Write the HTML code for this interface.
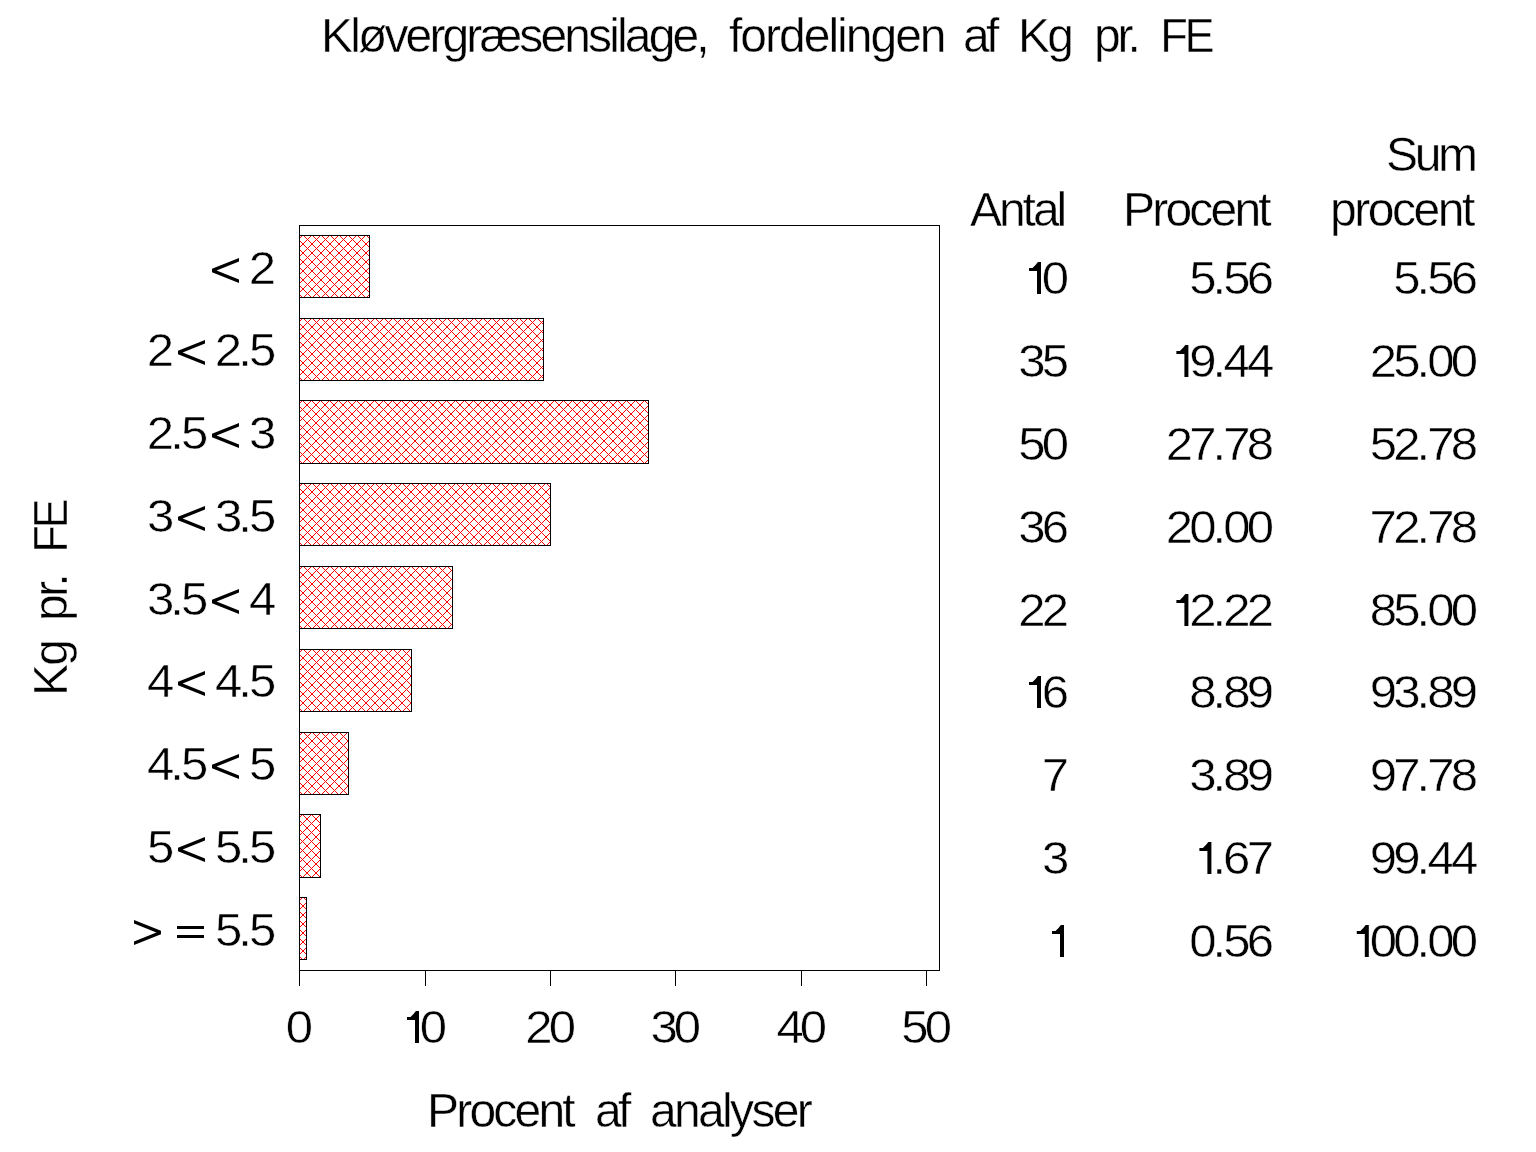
<!DOCTYPE html><html><head><meta charset="utf-8"><style>
html,body{margin:0;padding:0;background:#fff;width:1536px;height:1152px;overflow:hidden}
svg{display:block;will-change:transform} text{font-family:"Liberation Sans", sans-serif;fill:#000} .n{font-size:47px;stroke:#fff;stroke-width:0.5px} .w{font-size:48px;stroke:#fff;stroke-width:0.45px}
</style></head><body>
<svg width="1536" height="1152" viewBox="0 0 1536 1152">
<defs>
<pattern id="hA" x="0" y="0" width="9" height="9" patternUnits="userSpaceOnUse"><path d="M0 3h1v1h-1zM0 5h1v1h-1zM1 2h1v1h-1zM1 6h1v1h-1zM2 1h1v1h-1zM2 7h1v1h-1zM3 0h1v1h-1zM3 8h1v1h-1zM4 0h1v1h-1zM4 8h1v1h-1zM5 1h1v1h-1zM5 7h1v1h-1zM6 2h1v1h-1zM6 6h1v1h-1zM7 3h1v1h-1zM7 5h1v1h-1zM8 4h1v1h-1z" fill="#f00" shape-rendering="crispEdges"/></pattern>
<pattern id="hB" x="0" y="0" width="9" height="9" patternUnits="userSpaceOnUse"><path d="M0 3h1v1h-1zM0 6h1v1h-1zM1 2h1v1h-1zM1 7h1v1h-1zM2 1h1v1h-1zM2 8h1v1h-1zM3 0h1v1h-1zM4 1h1v1h-1zM4 8h1v1h-1zM5 2h1v1h-1zM5 7h1v1h-1zM6 3h1v1h-1zM6 6h1v1h-1zM7 4h1v1h-1zM7 5h1v1h-1zM8 4h1v1h-1zM8 5h1v1h-1z" fill="#f00" shape-rendering="crispEdges"/></pattern>
</defs>
<rect width="1536" height="1152" fill="#fff"/>
<g transform="translate(299 235)"><rect width="70" height="62" fill="url(#hA)"/><rect x="0.5" y="0.5" width="70" height="62" fill="none" stroke="#000" shape-rendering="crispEdges"/></g>
<g transform="translate(299 318)"><rect width="244" height="62" fill="url(#hA)"/><rect x="0.5" y="0.5" width="244" height="62" fill="none" stroke="#000" shape-rendering="crispEdges"/></g>
<g transform="translate(299 400)"><rect width="349" height="63" fill="url(#hB)"/><rect x="0.5" y="0.5" width="349" height="63" fill="none" stroke="#000" shape-rendering="crispEdges"/></g>
<g transform="translate(299 483)"><rect width="251" height="62" fill="url(#hA)"/><rect x="0.5" y="0.5" width="251" height="62" fill="none" stroke="#000" shape-rendering="crispEdges"/></g>
<g transform="translate(299 566)"><rect width="153" height="62" fill="url(#hA)"/><rect x="0.5" y="0.5" width="153" height="62" fill="none" stroke="#000" shape-rendering="crispEdges"/></g>
<g transform="translate(299 649)"><rect width="112" height="62" fill="url(#hA)"/><rect x="0.5" y="0.5" width="112" height="62" fill="none" stroke="#000" shape-rendering="crispEdges"/></g>
<g transform="translate(299 732)"><rect width="49" height="62" fill="url(#hA)"/><rect x="0.5" y="0.5" width="49" height="62" fill="none" stroke="#000" shape-rendering="crispEdges"/></g>
<g transform="translate(299 814)"><rect width="21" height="63" fill="url(#hB)"/><rect x="0.5" y="0.5" width="21" height="63" fill="none" stroke="#000" shape-rendering="crispEdges"/></g>
<g transform="translate(299 897)"><rect width="7" height="62" fill="url(#hA)"/><rect x="0.5" y="0.5" width="7" height="62" fill="none" stroke="#000" shape-rendering="crispEdges"/></g>
<g stroke="#000" fill="none" shape-rendering="crispEdges">
<rect x="299.5" y="225.5" width="640" height="745"/>
<path d="M299.5 970V986M425.5 970V986M550.5 970V986M675.5 970V986M801.5 970V986M926.5 970V986"/>
</g>
<path fill="#000" d="M1038 262L1041 262L1041 294L1037 294L1037 271L1029 271L1029 268L1032.5 268L1035.5 265L1037.5 262.6ZM1185.4 345L1188.4 345L1188.4 377L1184.4 377L1184.4 354L1176.4 354L1176.4 351L1179.9 351L1182.9 348L1184.9 345.6ZM1185.4 594L1188.4 594L1188.4 626L1184.4 626L1184.4 603L1176.4 603L1176.4 600L1179.9 600L1182.9 597L1184.9 594.6ZM1038 676L1041 676L1041 708L1037 708L1037 685L1029 685L1029 682L1032.5 682L1035.5 679L1037.5 676.6ZM1208.4 842L1211.4 842L1211.4 874L1207.4 874L1207.4 851L1199.4 851L1199.4 848L1202.9 848L1205.9 845L1207.9 842.6ZM1061 925L1064 925L1064 957L1060 957L1060 934L1052 934L1052 931L1055.5 931L1058.5 928L1060.5 925.6ZM1365.8 925L1368.8 925L1368.8 957L1364.8 957L1364.8 934L1356.8 934L1356.8 931L1360.3 931L1363.3 928L1365.3 925.6ZM239 258L239 261.5L216.6 270.5L239 279.5L239 283L212 272.2L212 268.8ZM205 340L205 343.5L182.6 352.5L205 361.5L205 365L178 354.2L178 350.8ZM239 423L239 426.5L216.6 435.5L239 444.5L239 448L212 437.2L212 433.8ZM205 506L205 509.5L182.6 518.5L205 527.5L205 531L178 520.2L178 516.8ZM239 589L239 592.5L216.6 601.5L239 610.5L239 614L212 603.2L212 599.8ZM205 671L205 674.5L182.6 683.5L205 692.5L205 696L178 685.2L178 681.8ZM239 754L239 757.5L216.6 766.5L239 775.5L239 779L212 768.2L212 764.8ZM205 837L205 840.5L182.6 849.5L205 858.5L205 862L178 851.2L178 847.8ZM134 920L134 923.5L156.4 932.5L134 941.5L134 945L161 934.2L161 930.8ZM177 926h27v3h-27zM177 935h27v3h-27zM416 1011L419 1011L419 1043L415 1043L415 1020L407 1020L407 1017L410.5 1017L413.5 1014L415.5 1011.6Z"/>
<text class="n" transform="scale(1.045 1)" x="996.98" y="294">0</text>
<text class="n" transform="scale(1.045 1)" x="1138.08 1160.36 1170.61 1192.99" y="294">5.56</text>
<text class="n" transform="scale(1.045 1)" x="1333.29 1355.58 1365.83 1388.21" y="294">5.56</text>
<text class="n" transform="scale(1.045 1)" x="974.53 997.02" y="377">35</text>
<text class="n" transform="scale(1.045 1)" x="1138.04 1160.36 1170.72 1193.3" y="377">9.44</text>
<text class="n" transform="scale(1.045 1)" x="1310.66 1333.29 1355.58 1365.78 1388.37" y="377">25.00</text>
<text class="n" transform="scale(1.045 1)" x="974.44 996.98" y="460">50</text>
<text class="n" transform="scale(1.045 1)" x="1115.45 1138.01 1160.36 1170.54 1193.15" y="460">27.78</text>
<text class="n" transform="scale(1.045 1)" x="1310.71 1333.25 1355.58 1365.76 1388.37" y="460">52.78</text>
<text class="n" transform="scale(1.045 1)" x="974.53 996.82" y="543">36</text>
<text class="n" transform="scale(1.045 1)" x="1115.45 1138.03 1160.36 1170.57 1193.15" y="543">20.00</text>
<text class="n" transform="scale(1.045 1)" x="1310.64 1333.25 1355.58 1365.76 1388.37" y="543">72.78</text>
<text class="n" transform="scale(1.045 1)" x="974.39 996.98" y="626">22</text>
<text class="n" transform="scale(1.045 1)" x="1138.03 1160.36 1170.57 1193.15" y="626">2.22</text>
<text class="n" transform="scale(1.045 1)" x="1310.66 1333.29 1355.58 1365.78 1388.37" y="626">85.00</text>
<text class="n" transform="scale(1.045 1)" x="996.82" y="708">6</text>
<text class="n" transform="scale(1.045 1)" x="1138.03 1160.36 1170.57 1193.16" y="708">8.89</text>
<text class="n" transform="scale(1.045 1)" x="1310.67 1333.38 1355.58 1365.78 1388.38" y="708">93.89</text>
<text class="n" transform="scale(1.045 1)" x="996.96" y="791">7</text>
<text class="n" transform="scale(1.045 1)" x="1138.17 1160.36 1170.57 1193.16" y="791">3.89</text>
<text class="n" transform="scale(1.045 1)" x="1310.67 1333.22 1355.58 1365.76 1388.37" y="791">97.78</text>
<text class="n" transform="scale(1.045 1)" x="997.12" y="874">3</text>
<text class="n" transform="scale(1.045 1)" x="1160.36 1170.41 1193.13" y="874">.67</text>
<text class="n" transform="scale(1.045 1)" x="1310.67 1333.26 1355.58 1365.93 1388.51" y="874">99.44</text>
<text class="n" transform="scale(1.045 1)" x="1138.03 1160.36 1170.61 1192.99" y="957">0.56</text>
<text class="n" transform="scale(1.045 1)" x="1310.66 1333.25 1355.58 1365.78 1388.37" y="957">00.00</text>
<text class="n" transform="scale(1.045 1)" x="238.13" y="284">2</text>
<text class="n" transform="scale(1.045 1)" x="140.52 205.59 227.92 238.17" y="366">22.5</text>
<text class="n" transform="scale(1.045 1)" x="140.52 162.85 173.1 238.26" y="449">2.53</text>
<text class="n" transform="scale(1.045 1)" x="140.66 205.73 227.92 238.17" y="532">33.5</text>
<text class="n" transform="scale(1.045 1)" x="140.66 162.85 173.1 238.28" y="615">3.54</text>
<text class="n" transform="scale(1.045 1)" x="140.67 205.74 227.92 238.17" y="697">44.5</text>
<text class="n" transform="scale(1.045 1)" x="140.67 162.85 173.1 238.17" y="780">4.55</text>
<text class="n" transform="scale(1.045 1)" x="140.56 205.64 227.92 238.17" y="863">55.5</text>
<text class="n" transform="scale(1.045 1)" x="205.64 227.92 238.17" y="946">5.5</text>
<text class="n" transform="scale(1.045 1)" x="273.53" y="1043">0</text>
<text class="n" transform="scale(1.045 1)" x="401.76" y="1043">0</text>
<text class="n" transform="scale(1.045 1)" x="502.62 525.21" y="1043">20</text>
<text class="n" transform="scale(1.045 1)" x="622.38 644.83" y="1043">30</text>
<text class="n" transform="scale(1.045 1)" x="742.96 765.4" y="1043">40</text>
<text class="n" transform="scale(1.045 1)" x="862.48 885.02" y="1043">50</text>
<text class="w" transform="translate(321.00 52) scale(1.0000 1)" style="letter-spacing:-2.86px">Kløvergræsensilage,</text>
<text class="w" transform="translate(729.00 52) scale(1.0000 1)" style="letter-spacing:-2.00px">fordelingen</text>
<text class="w" transform="translate(963.00 52) scale(1.0000 1)" style="letter-spacing:-3.60px">af</text>
<text class="w" transform="translate(1018.00 52) scale(1.0000 1)" style="letter-spacing:-2.80px">Kg</text>
<text class="w" transform="translate(1094.00 52) scale(1.0000 1)" style="letter-spacing:-3.30px">pr.</text>
<text class="w" transform="translate(1160.24 52) scale(0.9412 1)" style="letter-spacing:-3.60px">FE</text>
<text class="w" transform="translate(1386.00 171) scale(1.0000 1)" style="letter-spacing:-3.30px">Sum</text>
<text class="w" transform="translate(970.00 226) scale(1.0000 1)" style="letter-spacing:-3.05px">Antal</text>
<text class="w" transform="translate(1123.00 226) scale(1.0000 1)" style="letter-spacing:-2.80px">Procent</text>
<text class="w" transform="translate(1330.00 226) scale(1.0000 1)" style="letter-spacing:-2.47px">procent</text>
<text class="w" transform="translate(427.00 1127) scale(1.0000 1)" style="letter-spacing:-2.80px">Procent</text>
<text class="w" transform="translate(595.00 1127) scale(1.0000 1)" style="letter-spacing:-3.60px">af</text>
<text class="w" transform="translate(650.00 1127) scale(1.0000 1)" style="letter-spacing:-2.66px">analyser</text>
<text class="w" transform="translate(67 696.00) rotate(-90) scale(1.0000 1)" style="letter-spacing:-1.80px">Kg</text>
<text class="w" transform="translate(67 621.00) rotate(-90) scale(1.0000 1)" style="letter-spacing:-2.80px">pr.</text>
<text class="w" transform="translate(67 552.76) rotate(-90) scale(0.9412 1)" style="letter-spacing:-3.60px">FE</text>
</svg></body></html>
